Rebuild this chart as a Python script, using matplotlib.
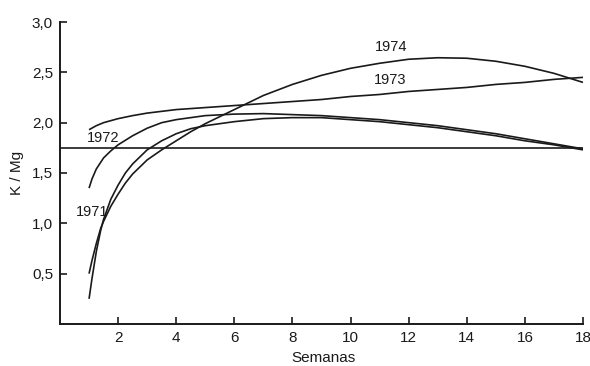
import matplotlib
matplotlib.use("Agg")
import matplotlib.pyplot as plt
from matplotlib.ticker import FuncFormatter

plt.rcParams["font.family"] = ["Liberation Sans Narrow", "Liberation Sans", "DejaVu Sans"]

# Curve readings (weeks vs K/Mg)
x_1973 = [1, 1.25, 1.5, 2, 2.5, 3, 4, 5, 6, 7, 8, 9, 10, 11, 12, 13, 14, 15, 16, 17, 18]
y_1973 = [1.93, 1.97, 2.00, 2.04, 2.07, 2.095, 2.13, 2.15, 2.17, 2.19, 2.21, 2.23, 2.26,
          2.28, 2.31, 2.33, 2.35, 2.38, 2.40, 2.43, 2.45]

x_1974 = [1, 1.1, 1.25, 1.4, 1.5, 1.75, 2, 2.25, 2.5, 3, 3.5, 4, 4.5, 5, 6, 7, 8, 9,
          10, 11, 12, 13, 14, 15, 16, 17, 18]
y_1974 = [0.50, 0.63, 0.80, 0.95, 1.02, 1.17, 1.29, 1.40, 1.49, 1.63, 1.73, 1.82, 1.91,
          1.99, 2.13, 2.27, 2.38, 2.47, 2.54, 2.59, 2.63, 2.645, 2.64, 2.61, 2.56,
          2.49, 2.40]

x_1972 = [1, 1.1, 1.25, 1.5, 1.75, 2, 2.5, 3, 3.5, 4, 5, 6, 7, 8, 9, 10, 11, 12, 13,
          14, 15, 16, 17, 18]
y_1972 = [1.35, 1.44, 1.54, 1.65, 1.72, 1.78, 1.87, 1.945, 2.00, 2.03, 2.07, 2.085,
          2.09, 2.08, 2.07, 2.05, 2.03, 2.00, 1.97, 1.93, 1.89, 1.84, 1.79, 1.74]

x_1971 = [1, 1.1, 1.25, 1.4, 1.5, 1.75, 2, 2.25, 2.5, 3, 3.5, 4, 4.5, 5, 6, 7, 8, 9,
          10, 11, 12, 13, 14, 15, 16, 17, 18]
y_1971 = [0.25, 0.45, 0.72, 0.93, 1.04, 1.24, 1.38, 1.50, 1.59, 1.73, 1.82, 1.89, 1.94,
          1.97, 2.01, 2.04, 2.05, 2.05, 2.03, 2.01, 1.98, 1.95, 1.91, 1.87, 1.82,
          1.78, 1.73]

ref_level = 1.75
x_ticks = [2, 4, 6, 8, 10, 12, 14, 16, 18]
y_ticks = [0.5, 1.0, 1.5, 2.0, 2.5, 3.0]

labels = ["1974", "1973", "1972", "1971"]
label_x = [11.4, 11.35, 1.5, 1.12]
label_y = [2.75, 2.42, 1.85, 1.11]

fig = plt.figure(figsize=(5.9, 3.66), dpi=100)
ax = fig.add_axes([60 / 590, (366 - 324) / 366, (583 - 60) / 590, (324 - 22) / 366])

lc = "#1a1a1a"
lw = 1.2
for xs, ys in [(x_1973, y_1973), (x_1974, y_1974), (x_1972, y_1972), (x_1971, y_1971)]:
    ax.plot(xs, ys, color=lc, lw=lw, solid_capstyle="butt", solid_joinstyle="round")
ax.plot([0, 18], [ref_level, ref_level], color=lc, lw=lw)

for t, xx, yy in zip(labels, label_x, label_y):
    ax.text(xx, yy, t, ha="center", va="center", fontsize=10.5, color=lc)

ax.set_xlim(0, 18)
ax.set_ylim(0, 3.0)
ax.set_xticks(x_ticks)
ax.set_yticks(y_ticks)
ax.yaxis.set_major_formatter(FuncFormatter(lambda v, p: f"{v:.1f}".replace(".", ",")))
ax.tick_params(direction="in", length=5, width=1.2, colors=lc, labelsize=11, pad=5)
for s in ["top", "right"]:
    ax.spines[s].set_visible(False)
for s in ["left", "bottom"]:
    ax.spines[s].set_linewidth(1.4)
    ax.spines[s].set_color(lc)

ax.set_xlabel("Semanas", fontsize=11, color=lc)
ax.xaxis.set_label_coords((323 - 60) / (583 - 60), -0.09)
ax.set_ylabel("K / Mg", fontsize=11, color=lc)
ax.yaxis.set_label_coords(-(60 - 24) / (583 - 60), (324 - 173) / (324 - 22))

fig.savefig("out.png", dpi=100)
